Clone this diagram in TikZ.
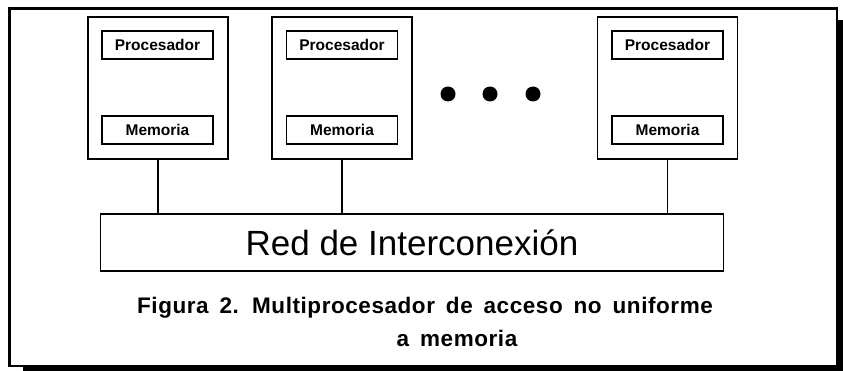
\documentclass[tikz,border=0pt]{standalone}
\usepackage{fontspec}
\setmainfont{Liberation Sans}
\newfontfamily\capfont[LetterSpace=2.5,WordSpace=1.6]{Liberation Sans}
\begin{document}
\begin{tikzpicture}[x=1pt,y=-1pt,
  cpu/.style={draw, line width=1.6pt, minimum width=140pt, minimum height=142pt, inner sep=0pt},
  unitbox/.style={draw, line width=1.6pt, minimum width=111pt, minimum height=28pt, inner sep=0pt,
    font=\bfseries\fontsize{15.5}{18}\selectfont},
  link/.style={line width=1.6pt},
  dotmark/.style={circle, fill=black, minimum size=15pt, inner sep=0pt},
  netbox/.style={draw, line width=1.6pt, minimum width=623pt, minimum height=57pt, inner sep=0pt,
    font=\fontsize{35}{40}\selectfont},
  captext/.style={inner sep=0pt, font=\capfont\bfseries\fontsize{22.5}{26}\selectfont}
]
\useasboundingbox (0,0) rectangle (843,371);
% frame with drop shadow
\fill[black] (23,20) rectangle (843,371);
\draw[line width=2.5pt, fill=white] (9.5,8.5) rectangle (837,366);

% processing nodes
\node[cpu] (b1) at (158,88) {};
\node[cpu] (b2) at (342,88) {};
\node[cpu] (b3) at (667.5,88) {};
\foreach \i/\x in {1/157.5, 2/342, 3/667.5}{
  \node[unitbox] (p\i) at (\x,45) {Procesador};
  \node[unitbox] (m\i) at (\x,130) {Memoria};
}

% dots
\node[dotmark] (d1) at (448,94) {};
\node[dotmark] (d2) at (490,94) {};
\node[dotmark] (d3) at (533,94) {};

% network
\node[netbox] (net) at (412,242.5) {Red de Interconexión};
\foreach \i in {1,2,3}{
  \draw[link] (b\i.south) -- (b\i.south |- net.north);
}

% caption
\node[captext, anchor=base] (cap1) at (425,313) {Figura 2. Multiprocesador de acceso no uniforme};
\node[captext, anchor=base] (cap2) at (457,346) {a memoria};
\end{tikzpicture}
\end{document}
